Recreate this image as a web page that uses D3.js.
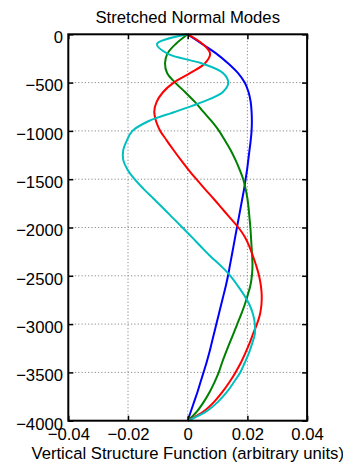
<!DOCTYPE html>
<html>
<head>
<meta charset="utf-8">
<script src="https://cdn.jsdelivr.net/npm/d3@7"></script>
<style>
  html, body { margin: 0; padding: 0; background: #fff; }
  svg { display: block; }
  text { font-family: "Liberation Sans", Arial, Helvetica, sans-serif; fill: #000; }
</style>
</head>
<body>
<svg id="chart" width="343" height="462"></svg>
<script>
// Depth levels (m) at which each vertical structure function is sampled
const depth = [0, -100, -200, -300, -400, -500, -600, -700, -800, -900,
  -1000, -1100, -1200, -1300, -1400, -1500, -1600, -1700, -1800, -1900,
  -2000, -2100, -2200, -2300, -2400, -2500, -2600, -2700, -2800, -2900,
  -3000, -3100, -3200, -3300, -3400, -3500, -3600, -3700, -3800, -3900, -4000];

// Mode 1 (blue)
const mode1 = [0, 0.0048, 0.0096, 0.0135, 0.0168, 0.0191, 0.0204, 0.0211, 0.0214, 0.0215,
  0.0214, 0.0211, 0.0207, 0.0203, 0.0199, 0.0194, 0.0189, 0.0183, 0.0177, 0.0171,
  0.0165, 0.0159, 0.0153, 0.0147, 0.0141, 0.0135, 0.0128, 0.0120, 0.0112, 0.0104,
  0.0096, 0.0088, 0.0080, 0.0072, 0.0063, 0.0053, 0.0043, 0.0033, 0.0022, 0.0011, 0];

// Mode 2 (green)
const mode2 = [0, -0.0040, -0.0068, -0.0076, -0.0069, -0.0042, -0.0008, 0.0024, 0.0052, 0.0080,
  0.0105, 0.0125, 0.0144, 0.0160, 0.0174, 0.0186, 0.0194, 0.0200, 0.0204, 0.0207,
  0.0210, 0.0212, 0.0214, 0.0216, 0.0217, 0.0215, 0.0210, 0.0201, 0.0191, 0.0179,
  0.0166, 0.0153, 0.0140, 0.0127, 0.0115, 0.0104, 0.0090, 0.0074, 0.0055, 0.0032, 0];

// Mode 3 (red)
const mode3 = [0, 0.0050, 0.0075, 0.0058, 0.0009, -0.0047, -0.0083, -0.0104, -0.0112, -0.0106,
  -0.0092, -0.0070, -0.0047, -0.0023, 0.0002, 0.0029, 0.0057, 0.0086, 0.0114, 0.0142,
  0.0170, 0.0192, 0.0207, 0.0219, 0.0230, 0.0239, 0.0245, 0.0248, 0.0247, 0.0242,
  0.0232, 0.0219, 0.0207, 0.0193, 0.0178, 0.0160, 0.0140, 0.0117, 0.0090, 0.0055, 0];

// Mode 4 (cyan)
const mode4 = [0, -0.0103, -0.0068, 0.0046, 0.0118, 0.0136, 0.0117, 0.0050, -0.0040, -0.0132,
  -0.0185, -0.0204, -0.0216, -0.0216, -0.0202, -0.0178, -0.0148, -0.0115, -0.0082, -0.0050,
  -0.0018, 0.0014, 0.0045, 0.0077, 0.0112, 0.0143, 0.0167, 0.0189, 0.0207, 0.0219,
  0.0225, 0.0225, 0.0216, 0.0205, 0.0191, 0.0176, 0.0155, 0.0132, 0.0103, 0.0064, 0];

const seriesValues = [mode1, mode2, mode3, mode4];
const seriesColors = ["#0000ff", "#008000", "#ff0000", "#00bfbf"];

const xTicks = [-0.04, -0.02, 0, 0.02, 0.04];
const xTickLabels = ["\u22120.04", "\u22120.02", "0", "0.02", "0.04"];
const yTicks = [0, -500, -1000, -1500, -2000, -2500, -3000, -3500, -4000];
const yTickLabels = ["0", "\u2212500", "\u22121000", "\u22121500", "\u22122000",
  "\u22122500", "\u22123000", "\u22123500", "\u22124000"];

const titleText = "Stretched Normal Modes";
const xLabelText = "Vertical Structure Function (arbitrary units)";

// ---- layout ----
const W = 343, H = 462;
const margin = { top: 34.3, right: 35.9, bottom: 41.3, left: 68.3 };
const innerW = W - margin.left - margin.right;
const innerH = H - margin.top - margin.bottom;
const fontSize = 16.7;
const tickLen = 5;

const svg = d3.select("#chart");
const g = svg.append("g").attr("transform", `translate(${margin.left},${margin.top})`);

const x = d3.scaleLinear().domain([-0.04, 0.04]).range([0, innerW]);
const y = d3.scaleLinear().domain([-4000, 0]).range([innerH, 0]);

// dotted grid
const grid = g.append("g").attr("class", "grid")
  .attr("stroke", "#8a8a8a").attr("stroke-width", 1).attr("stroke-dasharray", "1.2,2.1");
grid.selectAll("line.gx").data(xTicks.slice(1, -1)).join("line")
  .attr("class", "gx")
  .attr("x1", d => x(d)).attr("x2", d => x(d))
  .attr("y1", 0).attr("y2", innerH);
grid.selectAll("line.gy").data(yTicks.slice(1, -1)).join("line")
  .attr("class", "gy")
  .attr("y1", d => y(d)).attr("y2", d => y(d))
  .attr("x1", 0).attr("x2", innerW);

// curves
const line = d3.line()
  .x(d => x(d[1]))
  .y(d => y(d[0]))
  .curve(d3.curveCatmullRom.alpha(0.5));

g.append("g").attr("class", "modes")
  .selectAll("path")
  .data(seriesValues)
  .join("path")
  .attr("fill", "none")
  .attr("stroke", (d, i) => seriesColors[i])
  .attr("stroke-width", 2)
  .attr("stroke-linejoin", "round")
  .attr("d", vals => line(depth.map((z, k) => [z, vals[k]])));

// axes with inward ticks on all four sides
function styleAxis(sel) {
  sel.select(".domain").remove();
  sel.selectAll(".tick line").attr("stroke", "#000").attr("stroke-width", 1.5);
  sel.selectAll("text").style("font-size", fontSize + "px")
    .style("font-family", "'Liberation Sans', Arial, Helvetica, sans-serif")
    .attr("fill", "#000");
}

const xAxisBottom = g.append("g")
  .attr("transform", `translate(0,${innerH})`)
  .call(d3.axisBottom(x).tickValues(xTicks)
    .tickFormat((d, i) => xTickLabels[i])
    .tickSize(-tickLen).tickPadding(0));
styleAxis(xAxisBottom);
xAxisBottom.selectAll("text").attr("y", 19.3).attr("dy", null);

g.append("g")
  .call(d3.axisTop(x).tickValues(xTicks).tickFormat("").tickSize(-tickLen))
  .call(styleAxis);

const yAxisLeft = g.append("g")
  .call(d3.axisLeft(y).tickValues(yTicks)
    .tickFormat((d, i) => yTickLabels[i])
    .tickSize(-tickLen).tickPadding(0));
styleAxis(yAxisLeft);
yAxisLeft.selectAll("text").attr("x", -5.3).attr("dy", "0.5em");

g.append("g")
  .attr("transform", `translate(${innerW},0)`)
  .call(d3.axisRight(y).tickValues(yTicks).tickFormat("").tickSize(-tickLen))
  .call(styleAxis);

// box
g.append("rect")
  .attr("x", 0).attr("y", 0).attr("width", innerW).attr("height", innerH)
  .attr("fill", "none").attr("stroke", "#000").attr("stroke-width", 2);

// title and axis label
svg.append("text")
  .attr("x", margin.left + innerW / 2).attr("y", 23)
  .attr("text-anchor", "middle")
  .style("font-size", fontSize + "px")
  .text(titleText);

svg.append("text")
  .attr("x", margin.left + innerW / 2).attr("y", 458.5)
  .attr("text-anchor", "middle")
  .style("font-size", fontSize + "px")
  .text(xLabelText);
</script>
</body>
</html>
